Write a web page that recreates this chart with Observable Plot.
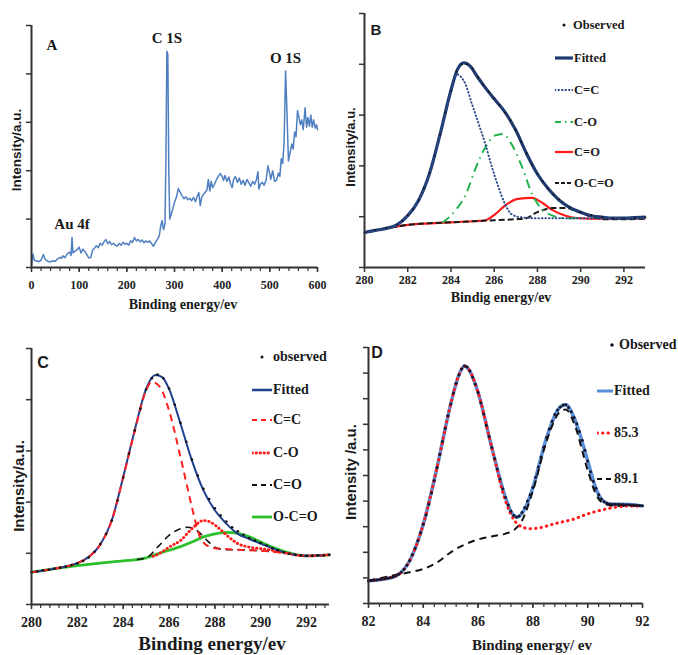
<!DOCTYPE html>
<html><head><meta charset="utf-8">
<script src="https://cdn.jsdelivr.net/npm/d3@7"></script>
<script src="https://cdn.jsdelivr.net/npm/@observablehq/plot@0.6"></script>
<style>
body{margin:0;background:#fff;}
#root{position:relative;width:678px;height:655px;background:#fff;overflow:hidden;font-family:"Liberation Serif","DejaVu Serif",serif;font-weight:bold;color:#1a1a1a}
.abs{position:absolute;white-space:nowrap;line-height:1}
.ytitle{position:absolute;white-space:nowrap;line-height:1;transform:translate(-50%,-50%) rotate(-90deg);font-family:"Liberation Sans","DejaVu Sans",sans-serif;font-weight:bold}
.ctr{position:absolute;white-space:nowrap;line-height:1;transform:translate(-50%,-50%)}
.leg{position:absolute;white-space:nowrap;line-height:1;transform:translateY(-50%)}
</style></head><body><div id="root"></div>
<script>
// ---------- DATA ----------
// Panel A: survey spectrum [binding energy, intensity]
const surveySpectrum = [[0,0.05],[3,0.28],[6,0.15],[10,0.14],[15,0.12],[20,0.15],[25,0.27],[28,0.18],[32,0.14],[36,0.12],[40,0.12],[45,0.14],[50,0.13],[55,0.18],[60,0.21],[63,0.19],[66,0.24],[70,0.2],[75,0.28],[80,0.32],[83,0.25],[85,0.62],[87,0.3],[90,0.33],[95,0.36],[100,0.42],[104,0.3],[108,0.38],[112,0.33],[116,0.27],[120,0.2],[124,0.2],[128,0.35],[132,0.4],[136,0.45],[140,0.41],[144,0.5],[148,0.46],[152,0.53],[156,0.58],[160,0.49],[164,0.54],[168,0.47],[172,0.5],[176,0.46],[180,0.44],[184,0.5],[188,0.46],[192,0.52],[196,0.48],[200,0.5],[204,0.46],[208,0.55],[212,0.52],[216,0.62],[220,0.55],[224,0.58],[228,0.53],[232,0.57],[236,0.51],[240,0.55],[244,0.52],[248,0.55],[252,0.49],[256,0.44],[260,0.52],[264,0.58],[268,0.65],[271,0.85],[274,0.97],[277,0.78],[280,0.9],[282,2.2],[284,4.47],[286,4.4],[288,2.0],[290,1.0],[293,1.1],[296,1.2],[300,1.35],[304,1.45],[308,1.63],[312,1.55],[316,1.48],[320,1.42],[324,1.46],[328,1.4],[332,1.43],[336,1.38],[340,1.45],[344,1.36],[348,1.48],[351,1.55],[354,1.28],[357,1.45],[360,1.5],[364,1.55],[368,1.6],[371,1.82],[374,1.58],[377,1.78],[380,1.65],[384,1.72],[388,1.82],[392,1.88],[396,1.94],[400,1.88],[403,1.8],[406,1.9],[410,1.78],[414,1.87],[418,1.72],[421,1.65],[424,1.82],[428,1.88],[432,1.76],[436,1.85],[440,1.72],[444,1.8],[448,1.7],[452,1.82],[456,1.75],[460,1.68],[464,1.78],[468,1.72],[472,1.82],[475,1.98],[477,1.62],[480,1.72],[484,1.76],[488,1.7],[492,1.8],[496,2.1],[499,1.98],[502,1.82],[506,2.0],[510,1.78],[514,1.8],[518,1.95],[521,1.88],[524,2.25],[527,2.15],[530,2.6],[533,4.06],[536,3.2],[539,2.2],[542,2.35],[546,2.55],[549,2.45],[552,2.8],[555,2.7],[558,3.24],[561,3.1],[564,2.95],[567,3.05],[570,2.85],[574,3.3],[577,2.9],[580,3.1],[583,2.92],[586,3.15],[589,2.9],[592,3.05],[595,2.88],[598,2.95],[600,2.85]];
const peakNames = ["Au 4f", "C 1S", "O 1S"];
const peakEnergies = [85, 284, 533];

// Panel B: C 1s (first sample)
const bObserved = [[280,0.69],[280.5,0.74],[281,0.78],[281.5,0.85],[281.75,0.92],[282,1.03],[282.25,1.15],[282.5,1.33],[282.75,1.56],[283,1.86],[283.25,2.2],[283.5,2.62],[283.75,3.05],[284,3.48],[284.25,3.85],[284.5,4.0],[284.75,4.0],[285,3.92],[285.25,3.75],[285.5,3.6],[285.75,3.46],[286,3.33],[286.25,3.2],[286.5,3.05],[286.75,2.9],[287,2.71],[287.25,2.48],[287.5,2.25],[287.75,2.03],[288,1.85],[288.25,1.7],[288.5,1.56],[288.75,1.44],[289,1.34],[289.5,1.19],[290,1.09],[290.5,1.03],[291,0.99],[291.5,0.97],[292,0.97],[292.5,0.98],[293,0.99]];
const bFitted = [[280,0.69],[280.5,0.73],[281,0.77],[281.5,0.84],[282,1.02],[282.5,1.32],[283,1.84],[283.5,2.63],[284,3.49],[284.3,3.9],[284.6,4.03],[284.9,3.96],[285.2,3.77],[285.5,3.59],[286,3.32],[286.5,3.06],[287,2.70],[287.5,2.24],[288,1.84],[288.5,1.55],[289,1.33],[289.5,1.18],[290,1.09],[290.5,1.02],[291,0.99],[291.5,0.97],[292,0.97],[292.5,0.98],[293,0.99]];
const bCC = [[280,0.69],[281,0.77],[281.5,0.84],[282,1.02],[282.5,1.32],[283,1.84],[283.5,2.6],[284,3.45],[284.27,3.8],[284.66,3.62],[284.97,3.22],[285.28,2.83],[285.59,2.43],[285.9,1.97],[286.2,1.58],[286.5,1.25],[286.8,1.05],[287.2,0.99],[288,0.97],[290,0.97],[293,0.97]];
const bCO = [[283.6,0.88],[284.2,1.12],[284.7,1.45],[285.1,1.91],[285.6,2.37],[286.05,2.6],[286.4,2.63],[286.8,2.43],[287.3,1.97],[287.75,1.45],[288.2,1.15],[288.7,1.02],[289.3,0.97],[290,0.97]];
const bCdO = [[280,0.69],[281,0.77],[282,0.84],[283,0.87],[284,0.89],[285,0.91],[285.6,0.93],[286.05,1.05],[286.5,1.22],[287.1,1.35],[287.75,1.37],[288.2,1.28],[288.7,1.13],[289.3,1.02],[289.9,0.97],[291,0.96],[292,0.96],[293,0.97]];
const bOCO = [[280,0.69],[281,0.77],[282,0.84],[283,0.87],[284,0.89],[285,0.91],[286,0.93],[287,0.95],[287.4,0.96],[288,1.09],[288.7,1.17],[289.3,1.17],[289.9,1.09],[290.5,1.0],[291.1,0.95],[292,0.95],[293,0.96]];

// Panel C: C 1s (second sample)
const cObserved = [[280,0.63],[280.25,0.65],[280.5,0.67],[280.75,0.68],[281,0.70],[281.25,0.72],[281.5,0.74],[281.75,0.77],[282,0.80],[282.25,0.85],[282.5,0.92],[282.75,1.03],[283,1.18],[283.25,1.38],[283.5,1.64],[283.75,2.03],[284,2.48],[284.25,2.95],[284.5,3.40],[284.75,3.82],[285,4.20],[285.25,4.42],[285.5,4.49],[285.75,4.42],[286,4.22],[286.25,3.90],[286.5,3.55],[286.75,3.18],[287,2.83],[287.25,2.52],[287.5,2.26],[287.75,2.06],[288,1.88],[288.25,1.74],[288.5,1.62],[288.75,1.51],[289,1.43],[289.25,1.36],[289.5,1.30],[289.75,1.25],[290,1.20],[290.25,1.15],[290.5,1.10],[290.75,1.06],[291,1.02],[291.25,0.99],[291.5,0.97],[291.75,0.96],[292,0.95],[292.25,0.95],[292.5,0.96],[292.75,0.96],[293,0.97]];
const cFitted = [[280,0.63],[281,0.70],[282,0.81],[282.5,0.93],[283,1.17],[283.5,1.64],[284,2.49],[284.5,3.40],[285,4.21],[285.4,4.48],[285.7,4.44],[286,4.21],[286.5,3.53],[287,2.81],[287.5,2.23],[288,1.84],[288.5,1.58],[289,1.38],[289.5,1.28],[290,1.19],[290.5,1.10],[291,1.02],[291.5,0.97],[292,0.95],[293,0.97]];
const cCC = [[280,0.63],[281,0.70],[282,0.81],[282.5,0.93],[283,1.17],[283.5,1.64],[284,2.48],[284.5,3.38],[285,4.18],[285.25,4.35],[285.6,4.25],[286,3.79],[286.5,2.88],[287,1.90],[287.3,1.38],[287.6,1.17],[288,1.10],[289,1.07],[290,1.05],[291,1.01],[292,0.95],[293,0.97]];
const cCO = [[285.3,0.94],[285.6,1.0],[286,1.12],[286.5,1.25],[287,1.48],[287.5,1.64],[287.8,1.61],[288.2,1.48],[288.6,1.32],[289,1.19],[289.5,1.12],[290,1.09],[290.5,1.06],[291,1.01],[292,0.95],[293,0.97]];
const cCdO = [[284.6,0.88],[285,0.91],[285.5,1.12],[286,1.35],[286.5,1.48],[286.8,1.51],[287.2,1.45],[287.6,1.28],[288,1.12],[288.5,1.07],[289,1.07],[290,1.05],[291,1.01],[292,0.95],[293,0.97]];
const cOCO = [[280,0.63],[281,0.70],[282,0.76],[283,0.81],[284,0.85],[285,0.91],[285.5,0.99],[286,1.06],[286.5,1.13],[287,1.22],[287.5,1.32],[288,1.38],[288.5,1.41],[289,1.39],[289.5,1.32],[290,1.22],[290.5,1.12],[291,1.04],[291.5,0.98],[292,0.95],[293,0.97]];

// Panel D: Au 4f
const dObservedEnergy = d3.range(0, 101).map(i => +(82 + i / 10).toFixed(1));
const dObservedIntensity = [0.89,0.90,0.91,0.92,0.94,0.95,0.97,0.99,1.01,1.04,
  1.08,1.14,1.22,1.34,1.49,1.67,1.90,2.16,2.45,2.77,
  3.10,3.46,3.88,4.32,4.80,5.31,5.82,6.33,6.84,7.33,
  7.79,8.22,8.60,8.93,9.16,9.28,9.24,9.08,8.84,8.56,
  8.24,7.83,7.40,6.96,6.52,6.09,5.66,5.25,4.86,4.48,
  4.14,3.85,3.60,3.44,3.37,3.42,3.55,3.75,4.00,4.25,
  4.53,4.93,5.33,5.72,6.10,6.48,6.82,7.12,7.38,7.56,
  7.68,7.75,7.76,7.66,7.49,7.27,7.02,6.72,6.38,5.99,
  5.57,5.15,4.78,4.50,4.25,4.08,3.97,3.92,3.89,3.88,
  3.88,3.88,3.87,3.87,3.86,3.86,3.85,3.85,3.84,3.83,3.82];
const dFitted = [[82,0.89],[82.5,0.95],[83,1.08],[83.5,1.67],[84,3.10],[84.5,5.31],[85,7.79],[85.3,8.93],[85.5,9.28],[85.7,9.08],[86,8.24],[86.5,6.09],[87,4.14],[87.25,3.5],[87.45,3.38],[87.75,3.8],[88,4.53],[88.5,6.48],[89,7.68],[89.2,7.76],[89.5,7.27],[90,5.57],[90.3,4.5],[90.5,4.08],[90.8,3.89],[91,3.88],[91.5,3.87],[92,3.81]];
const d853 = [[82,0.89],[83,1.08],[83.5,1.67],[84,3.10],[84.5,5.31],[85,7.79],[85.3,8.93],[85.5,9.28],[85.7,9.08],[86,8.24],[86.5,6.09],[87,4.0],[87.3,3.29],[87.5,3.05],[87.9,2.92],[88.3,2.97],[88.8,3.12],[89.5,3.3],[90,3.5],[90.5,3.65],[91,3.76],[91.5,3.81],[92,3.81]];
const d891 = [[82,0.89],[83,1.12],[83.5,1.22],[84,1.35],[84.5,1.6],[85,2.0],[85.5,2.3],[86,2.5],[86.5,2.62],[87,2.73],[87.3,2.86],[87.6,3.23],[88,4.40],[88.5,6.35],[89,7.5],[89.2,7.58],[89.5,7.05],[90,5.2],[90.3,4.27],[90.6,3.9],[91,3.81],[92,3.81]];

// ---------- RENDER ----------
const serif = '"Liberation Serif","DejaVu Serif",serif';
const root = document.getElementById("root");

function add(cls, html, left, top, css = "") {
  const el = document.createElement("div");
  el.className = cls;
  el.style.cssText = `left:${left}px;top:${top}px;${css}`;
  el.innerHTML = html;
  root.appendChild(el);
  return el;
}

function panel(o) {
  const axisMarks = [];
  if (o.xMinor) axisMarks.push(Plot.axisX({ticks: o.xMinor, tickSize: 4, tickFormat: () => "", strokeWidth: 1.2, stroke: "#333", label: null}));
  axisMarks.push(Plot.axisX({ticks: o.xMajor, tickSize: 5, tickPadding: o.tickPadding, strokeWidth: 1.5, stroke: "#333", fill: "#222", label: null, tickFormat: d => String(d)}));
  axisMarks.push(Plot.axisY({ticks: o.yTicks, tickSize: 5, tickFormat: () => "", strokeWidth: 1.5, stroke: "#333", label: null}));
  const chart = Plot.plot({
    width: o.width, height: o.height,
    marginTop: o.m[0], marginRight: o.m[1], marginBottom: o.m[2], marginLeft: o.m[3],
    x: {domain: o.xDomain, label: null},
    y: {domain: o.yDomain, label: null},
    style: {fontFamily: serif, fontWeight: "bold", fontSize: o.fontSize + "px", color: "#222", background: "transparent", overflow: "visible"},
    marks: [
      ...axisMarks,
      ...o.marks,
      Plot.ruleX([o.xDomain[0]], {stroke: "#333", strokeWidth: 2}),
      Plot.ruleY([o.yDomain[0]], {stroke: "#333", strokeWidth: 2})
    ]
  });
  chart.style.position = "absolute";
  chart.style.left = o.left + "px";
  chart.style.top = o.top + "px";
  root.appendChild(chart);
}

function legend(items, o) {
  items.forEach((it, i) => {
    const y = o.tops[i];
    if (it.dot) {
      const dx = o.dotX ?? (o.sw0 + o.sw1) / 2;
      add("leg", `<svg width="6" height="6" style="display:block"><circle cx="3" cy="3" r="${it.r || 1.5}" fill="${it.fill}"/></svg>`, dx - 3, y);
      add("leg", it.label, o.obsTextX ?? o.textX, y, `font-size:${o.fontSize}px`);
    } else {
      const w = o.sw1 - o.sw0;
      add("leg", `<svg width="${w}" height="8" style="display:block"><line x1="0" x2="${w}" y1="4" y2="4" stroke="${it.stroke}" stroke-width="${it.width}" ${it.dash ? `stroke-dasharray="${it.dash}"` : ""} stroke-linecap="${it.cap || "butt"}"/></svg>`, o.sw0, y);
      add("leg", it.label, o.textX, y, `font-size:${o.fontSize}px`);
    }
  });
}

const line = (data, s) => Plot.line(data, {curve: "monotone-x", stroke: s.stroke, strokeWidth: s.width, strokeDasharray: s.dash, strokeLinecap: s.cap || "butt", strokeLinejoin: "round"});

// --- Panel A ---
const peaks = peakNames.map((name, i) => {
  const near = surveySpectrum.filter(d => Math.abs(d[0] - peakEnergies[i]) <= 3);
  return {name, x: peakEnergies[i], y: d3.max(near, d => d[1])};
});
panel({
  left: 0, top: 0, width: 339, height: 300, m: [25, 22, 33, 31],
  xDomain: [0, 600], yDomain: [0, 5],
  xMajor: d3.range(0, 601, 100), xMinor: d3.range(0, 601, 20), yTicks: d3.range(0, 6),
  fontSize: 12, tickPadding: 8,
  marks: [
    Plot.line(surveySpectrum, {stroke: "#4f7fc0", strokeWidth: 1.5, strokeLinejoin: "round"}),
    Plot.text(peaks, {x: "x", y: "y", text: "name", dy: -8, lineAnchor: "bottom", fontSize: 15, fontWeight: "bold", fill: "#1a1a1a"})
  ]
});
add("ctr", "A", 52, 45, "font-size:15px");
add("ctr", "Binding energy/ev", 183, 305, "font-size:14px");
add("ytitle", "Intensity/a.u.", 17, 150, "font-size:13.5px");

// --- Panel B ---
const bStyles = {
  obs: {fill: "#111"},
  fit: {stroke: "#1f3a6e", width: 3.2},
  cc: {stroke: "#2a4a8a", width: 2, dash: "0.5,3", cap: "round"},
  co: {stroke: "#22b14c", width: 2, dash: "9,5,1.5,5"},
  cdo: {stroke: "#ff1a1a", width: 2.2},
  oco: {stroke: "#1a1a1a", width: 2, dash: "6,3"}
};
panel({
  left: 338, top: 0, width: 340, height: 320, m: [13, 33, 53, 26],
  xDomain: [280, 293], yDomain: [0, 5],
  xMajor: d3.range(280, 293, 2), yTicks: d3.range(0, 6),
  fontSize: 12, tickPadding: 3,
  marks: [
    line(bCdO, bStyles.cdo),
    line(bOCO, bStyles.oco),
    line(bCO, bStyles.co),
    line(bFitted, bStyles.fit),
    line(bCC, bStyles.cc),
    Plot.dot(bObserved, {r: 0.9, fill: "#111", stroke: "none"})
  ]
});
add("ctr", "B", 376, 29, "font-size:15px;font-family:'Liberation Sans',sans-serif");
add("ctr", "Bindig energy/ev", 501, 298, "font-size:14px");
add("ytitle", "Intensity/a.u.", 350, 147, "font-size:13px");
legend([
  {dot: true, label: "Observed", fill: "#111"},
  {label: "Fitted", ...bStyles.fit},
  {label: "C=C", ...bStyles.cc, width: 2},
  {label: "C-O", ...bStyles.co, dash: "6,4,1.5,4"},
  {label: "C=O", ...bStyles.cdo},
  {label: "O-C=O", ...bStyles.oco, dash: "4,2"}
], {tops: [25, 58, 90, 122, 152, 183], sw0: 555, sw1: 573, dotX: 564, textX: 574, obsTextX: 573, fontSize: 12.5});

// --- Panel C ---
const cStyles = {
  fit: {stroke: "#1f3f8f", width: 2},
  cc: {stroke: "#ff2020", width: 2, dash: "7,5"},
  co: {stroke: "#ff1a1a", width: 2.8, dash: "0.5,3.5", cap: "round"},
  cdo: {stroke: "#111", width: 1.6, dash: "7,5"},
  oco: {stroke: "#2cc02c", width: 2.8}
};
panel({
  left: 0, top: 320, width: 340, height: 335, m: [28, 11, 51, 31],
  xDomain: [280, 293], yDomain: [0, 5],
  xMajor: d3.range(280, 293, 2), xMinor: d3.range(0, 33).map(i => 280 + i * 0.4), yTicks: d3.range(0, 6),
  fontSize: 14, tickPadding: 8,
  marks: [
    line(cOCO, cStyles.oco),
    line(cCdO, cStyles.cdo),
    line(cCO, cStyles.co),
    line(cFitted, cStyles.fit),
    line(cCC, cStyles.cc),
    Plot.dot(cObserved, {r: 1.3, fill: "#111", stroke: "none"})
  ]
});
add("ctr", "C", 43, 363, "font-size:16px;font-family:'Liberation Sans',sans-serif");
add("ctr", "Binding energy/ev", 212, 643, "font-size:19px");
add("ytitle", "Intensity/a.u.", 18, 486, "font-size:15px");
legend([
  {dot: true, label: "observed", fill: "#111"},
  {label: "Fitted", ...cStyles.fit, width: 2.5},
  {label: "C=C", ...cStyles.cc, dash: "5,4"},
  {label: "C-O", ...cStyles.co},
  {label: "C=O", ...cStyles.cdo, width: 2, dash: "5,4"},
  {label: "O-C=O", ...cStyles.oco}
], {tops: [357, 390, 420, 453, 485, 517], sw0: 252, sw1: 272, dotX: 262, textX: 273, fontSize: 14});

// --- Panel D ---
const dStyles = {
  fit: {stroke: "#5a8ed8", width: 3.5},
  p853: {stroke: "#ff1a1a", width: 3, dash: "0.5,5", cap: "round"},
  p891: {stroke: "#111", width: 2, dash: "7,5"}
};
const dObserved = dObservedEnergy.map((e, i) => [e, dObservedIntensity[i]]);
panel({
  left: 338, top: 320, width: 340, height: 335, m: [27, 36, 52, 30],
  xDomain: [82, 92], yDomain: [0, 10],
  xMajor: d3.range(82, 93, 2), xMinor: d3.range(0, 26).map(i => 82 + i * 0.4), yTicks: d3.range(0, 11),
  fontSize: 14, tickPadding: 8,
  marks: [
    line(dFitted, dStyles.fit),
    line(d891, dStyles.p891),
    line(d853, dStyles.p853),
    Plot.dot(dObserved, {r: 1.5, fill: "#14142a", stroke: "none"})
  ]
});
add("ctr", "D", 377, 353, "font-size:16px;font-family:'Liberation Sans',sans-serif");
add("ctr", "Binding energy/ ev", 532, 645, "font-size:15px");
add("ytitle", "Intensity /a.u.", 350, 472, "font-size:15px");
legend([
  {dot: true, label: "Observed", fill: "#14142a", r: 1.8},
  {label: "Fitted", ...dStyles.fit, width: 3},
  {label: "85.3", ...dStyles.p853},
  {label: "89.1", ...dStyles.p891, dash: "5,4"}
], {tops: [345, 391, 433, 479], sw0: 597, sw1: 613, dotX: 612, textX: 614, obsTextX: 619, fontSize: 14});
</script>
</body></html>
